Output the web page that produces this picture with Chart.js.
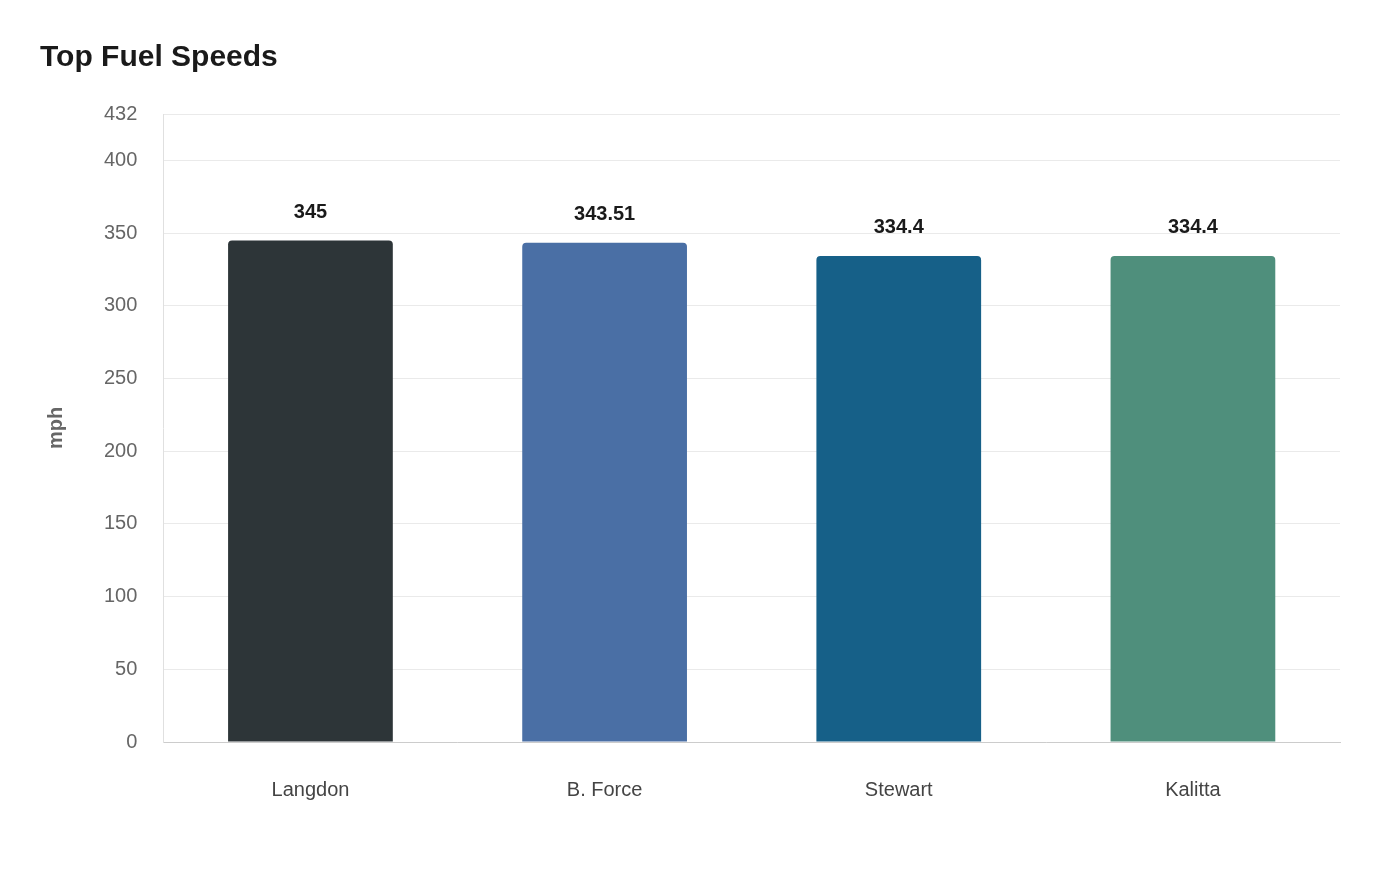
<!DOCTYPE html>
<html lang="en">
<head>
<meta charset="UTF-8">
<title>Top Fuel Speeds</title>
<script src="https://cdn.jsdelivr.net/npm/chart.js@4.4.0/dist/chart.umd.min.js"></script>
<style>
  body { margin: 0; background: #fff; }
</style>
</head>
<body>
<canvas id="chart" width="1400" height="880"></canvas>
<script>
const drivers = ["Langdon", "B. Force", "Stewart", "Kalitta"];
const speeds = [345, 343.51, 334.4, 334.4];
const barColors = ["#2d3538", "#4a6fa5", "#166088", "#4f8f7c"];

const valueLabels = {
  id: "valueLabels",
  afterDatasetsDraw(chart) {
    const ctx = chart.ctx;
    const meta = chart.getDatasetMeta(0);
    ctx.save();
    ctx.font = "bold 20px 'Liberation Sans', Arial, sans-serif";
    ctx.fillStyle = "#1a1a1a";
    ctx.textAlign = "center";
    ctx.textBaseline = "bottom";
    meta.data.forEach((bar, i) => {
      ctx.fillText(String(speeds[i]), bar.x, bar.y - 18);
    });
    ctx.restore();
  }
};

new Chart("chart", {
  type: "bar",
  data: {
    labels: drivers,
    datasets: [{
      data: speeds,
      backgroundColor: barColors,
      borderRadius: { topLeft: 4, topRight: 4 },
      borderSkipped: "bottom",
      categoryPercentage: 1,
      barPercentage: 0.56
    }]
  },
  options: {
    responsive: false,
    animation: false,
    devicePixelRatio: 1,
    layout: { padding: { left: 40, right: 60, top: 40, bottom: 50 } },
    plugins: {
      legend: { display: false },
      tooltip: { enabled: false },
      title: {
        display: true,
        text: "Top Fuel Speeds",
        align: "start",
        color: "#1a1a1a",
        font: { family: "'Liberation Sans', Arial, sans-serif", size: 30, weight: "bold" },
        padding: { top: 0, bottom: 38 }
      }
    },
    scales: {
      x: {
        grid: { display: false },
        border: { color: "#cccccc" },
        ticks: {
          color: "#444",
          padding: 28,
          font: { family: "'Liberation Sans', Arial, sans-serif", size: 20 }
        }
      },
      y: {
        min: 0,
        max: 432,
        ticks: {
          stepSize: 50,
          color: "#666",
          padding: 26,
          font: { family: "'Liberation Sans', Arial, sans-serif", size: 20 }
        },
        grid: { color: "#eaeaea", drawTicks: false },
        border: { color: "#e0e0e0" },
        title: {
          display: true,
          text: "mph",
          color: "#666",
          padding: { bottom: 10 },
          font: { family: "'Liberation Sans', Arial, sans-serif", size: 20, weight: "bold" }
        }
      }
    }
  },
  plugins: [valueLabels]
});
</script>
</body>
</html>
